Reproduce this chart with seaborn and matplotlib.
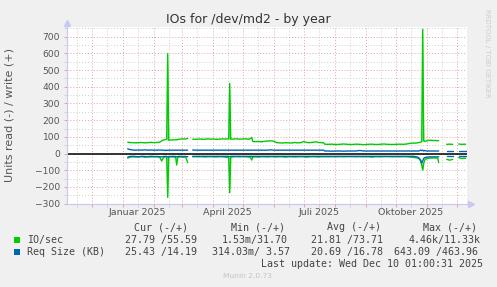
import numpy as np
import pandas as pd
import matplotlib
matplotlib.use("Agg")
import matplotlib.pyplot as plt
import matplotlib.dates as mdates
from matplotlib.ticker import MultipleLocator, FuncFormatter, NullFormatter
from matplotlib.patches import Rectangle
import seaborn as sns

nan = float("nan")

# ---------------- data ----------------
base_date = "2024-12-01"
# day offsets from base_date
day = [36, 38, 41, 44, 47, 50, 53, 56, 59, 62,
       65, 68, 70, 72, 74, 75, 76, 77, 79, 82,
       84, 85, 86, 88, 91, 94, 96, 97, 101, 104,
       107, 110, 113, 116, 119, 122, 125, 128, 131, 134,
       137, 138, 139, 142, 145, 148, 151, 154, 157, 159,
       160, 161, 164, 167, 170, 173, 176, 179, 182, 185,
       188, 191, 194, 197, 200, 203, 206, 209, 212, 215,
       218, 221, 224, 227, 230, 232, 233, 236, 240, 244,
       248, 252, 256, 260, 264, 268, 272, 276, 280, 284,
       288, 292, 296, 300, 304, 308, 312, 316, 319, 322,
       325, 327, 329, 330, 331, 332, 333, 335, 338, 341,
       344, 346, 347, 348, 355, 358, 361, 362, 367, 370, 374]

io_write = [68, 66, 65, 64, 65, 66, 64, 65, 67, 65,
            66, 68, 76, 82, 84, 86, 600, 80, 81, 82,
            83, 82, 84, 86, 88, 87, 91, nan, 86, 85,
            87, 86, 85, 88, 86, 87, 85, 86, 88, 87,
            88, 420, 86, 87, 88, 86, 87, 88, 86, 90,
            97, 72, 71, 72, 70, 73, 75, 76, 74, 65,
            64, 63, 65, 64, 63, 66, 64, 65, 72, 66,
            65, 67, 70, 66, 65, 64, 56, 55, 56, 54,
            55, 57, 55, 54, 56, 55, 53, 55, 56, 54,
            55, 57, 55, 54, 55, 56, 55, 58, 62, 62,
            63, 66, 68, 72, 745, 80, 72, 76, 80, 78,
            78, 77, 76, nan, 55, 56, 55, nan, 57, 55, 56]

io_read = [28, 22, 20, 21, 20, 19, 22, 20, 21, 19,
           20, 22, 45, 22, 20, 21, 263, 22, 20, 21,
           25, 69, 24, 20, 22, 21, 55, nan, 20, 19,
           20, 19, 21, 20, 19, 20, 21, 19, 20, 22,
           24, 235, 22, 20, 19, 20, 19, 20, 21, 25,
           39, 22, 20, 22, 19, 20, 21, 19, 20, 21,
           19, 20, 22, 19, 20, 21, 20, 19, 20, 22,
           20, 19, 20, 21, 19, 20, 19, 20, 19, 20,
           19, 20, 19, 19, 20, 19, 20, 19, 22, 19,
           20, 19, 19, 20, 19, 20, 19, 20, 22, 24,
           26, 30, 45, 70, 99, 60, 40, 30, 28, 27,
           27, 28, 55, nan, 35, 40, 35, nan, 25, 30, 28]

req_write = [28, 24, 21, 20, 21, 20, 22, 20, 21, 20,
             20, 21, 20, 20, 18, 20, 19, 20, 20, 20,
             20, 20, 20, 20, 20, 20, 20, nan, 21, 20,
             20, 20, 20, 20, 20, 20, 20, 20, 20, 20,
             20, 20, 20, 20, 20, 20, 20, 20, 20, 20,
             20, 20, 20, 20, 20, 20, 20, 22, 20, 20,
             20, 20, 20, 20, 20, 20, 20, 20, 20, 20,
             20, 20, 20, 20, 20, 20, 15, 15, 14, 15,
             15, 14, 15, 15, 15, 18, 15, 15, 15, 15,
             15, 15, 15, 15, 15, 15, 15, 15, 15, 15,
             15, 15, 20, 17, 20, 15, 18, 15, 15, 15,
             15, 15, 15, nan, 15, 15, 15, nan, 13, 13, 13]

req_read = [22, 18, 17, 18, 20, 17, 18, 19, 17, 18,
            18, 19, 20, 18, 17, 18, 20, 18, 18, 17,
            18, 20, 18, 17, 18, 18, 19, nan, 17, 17,
            17, 17, 17, 17, 17, 17, 17, 17, 17, 17,
            17, 19, 17, 17, 17, 17, 17, 17, 17, 17,
            17, 17, 17, 17, 17, 17, 17, 17, 17, 17,
            17, 17, 17, 17, 17, 17, 17, 17, 17, 17,
            17, 17, 17, 17, 17, 17, 17, 17, 17, 17,
            17, 17, 17, 17, 17, 17, 17, 17, 17, 17,
            17, 17, 17, 17, 17, 17, 17, 17, 17, 17,
            20, 25, 40, 59, 45, 30, 25, 22, 20, 20,
            20, 20, 20, nan, 17, 17, 17, nan, 17, 17, 17]

spike_days = [76, 138, 331]

title = "IOs for /dev/md2 - by year"
y_label = "Units read (-) / write (+)"
quarter_names = {1: "Januar", 4: "April", 7: "Juli", 10: "Oktober"}
series_names = ["IO/sec", "Req Size (KB)"]
col_headers = ["Cur (-/+)", "Min (-/+)", "Avg (-/+)", "Max (-/+)"]
io_stats = ["27.79 /55.59", "1.53m/31.70", "21.81 /73.71", "4.46k/11.33k"]
req_stats = ["25.43 /14.19", "314.03m/ 3.57", "20.69 /16.78", "643.09 /463.96"]
last_update = "Last update: Wed Dec 10 01:00:31 2025"
version = "Munin 2.0.73"
watermark = "RRDTOOL / TOBI OETIKER"

# ---------------- style ----------------
GREEN = "#00CC00"
BLUE = "#0066B3"
LIGHT_GREEN = "#7FE57F"
BG = "#F0F0F0"
TXT = "#555555"
MGRID = "#E8A0A0"
GRID = "#CFCFCF"
AXIS = "#C8C8F4"

sns.set_style("white")
plt.rcParams["font.family"] = ["DejaVu Sans"]

W, H = 497, 287
fig = plt.figure(figsize=(W / 100, H / 100), dpi=100, facecolor=BG)
ax_l, ax_r, ax_t, ax_b = 66.7, 467.3, 27.0, 203.5
ax = fig.add_axes([ax_l / W, (H - ax_b) / H, (ax_r - ax_l) / W, (ax_b - ax_t) / H])
ax.set_facecolor("white")

base = pd.Timestamp(base_date)
df = pd.DataFrame({
    "date": base + pd.to_timedelta(day, unit="D"),
    "io_w": np.array(io_write, float),
    "io_r": -np.array(io_read, float),
    "rq_w": np.array(req_write, float),
    "rq_r": -np.array(req_read, float),
})
df["seg"] = df["io_w"].isna().cumsum()
dd = df.dropna().reset_index(drop=True)

# light wedges around spikes
for d in spike_days:
    i = day.index(d)
    sub = df.iloc[i - 1:i + 2]
    ax.fill_between(sub["date"], sub["io_w"].min(), sub["io_w"], color=LIGHT_GREEN,
                    lw=0, zorder=2)
    ax.fill_between(sub["date"], sub["io_r"].max(), sub["io_r"], color=LIGHT_GREEN,
                    lw=0, zorder=2)

ax.axhline(0, color="black", lw=1.1, zorder=2.5)

for col, colr in [("io_w", GREEN), ("io_r", GREEN), ("rq_w", BLUE), ("rq_r", BLUE)]:
    sns.lineplot(data=dd, x="date", y=col, units="seg", estimator=None, color=colr,
                 lw=1.0, ax=ax, legend=False, zorder=3)

ax.set_xlim(base + pd.Timedelta(days=-25), base + pd.Timedelta(days=375.6))
ax.set_ylim(-300, 759)
ax.set_xlabel("")
ax.set_ylabel("")

ax.yaxis.set_major_locator(MultipleLocator(100))
ax.yaxis.set_minor_locator(MultipleLocator(50))
ax.xaxis.set_major_locator(mdates.MonthLocator(bymonthday=1))
ax.xaxis.set_minor_locator(mdates.MonthLocator(bymonthday=16))
ax.xaxis.set_major_formatter(NullFormatter())


def qfmt(x, pos):
    dt = mdates.num2date(x)
    if dt.month in quarter_names:
        return f"{quarter_names[dt.month]} {dt.year}"
    return ""


ax.xaxis.set_minor_formatter(FuncFormatter(qfmt))

dot = (0, (1, 2))
ax.grid(which="major", color=MGRID, ls=dot, lw=0.7, zorder=1)
ax.grid(which="minor", color=GRID, ls=dot, lw=0.7, zorder=0.9)
ax.set_axisbelow(True)

ax.tick_params(axis="y", which="major", length=2, width=0.7, color=MGRID, pad=2.8,
               labelsize=6.6, labelcolor=TXT, left=True)
ax.tick_params(axis="y", which="minor", length=2, width=0.7, color=GRID, left=True)
ax.tick_params(axis="x", which="major", length=2, width=0.7, color=MGRID, bottom=True)
ax.tick_params(axis="x", which="minor", length=2, width=0.7, color=GRID, pad=1.2,
               labelsize=6.8, labelcolor=TXT, bottom=True)

for s in ["top", "right"]:
    ax.spines[s].set_visible(False)
for s in ["left", "bottom"]:
    ax.spines[s].set_color(AXIS)
    ax.spines[s].set_linewidth(0.8)

ax.plot([0], [1.0 + 4 / (ax_b - ax_t)], marker="^", ms=4, color=AXIS,
        transform=ax.transAxes, clip_on=False)
ax.plot([1.0 + 4 / (ax_r - ax_l)], [0], marker=">", ms=4, color=AXIS,
        transform=ax.transAxes, clip_on=False)

# ---------------- texts ----------------
def fy(py):
    return 1 - py / H


fig.text(248.5 / W, fy(20), title, ha="center", va="center", fontsize=9, color="#333333")
fig.text(10 / W, fy((ax_t + ax_b) / 2), y_label, rotation=90, ha="center", va="center",
         fontsize=8, color=TXT)
fig.text(487.5 / W, fy(53), watermark, rotation=270, ha="center", va="center",
         fontsize=5, color="#CCCCCC")

mono = dict(family="DejaVu Sans Mono", fontsize=7.2, color="#444444", va="center")
for x, s in zip([134, 231, 327, 423], col_headers):
    fig.text(x / W, fy(227.5), s, ha="left", **mono)

fig.patches.append(Rectangle((14 / W, fy(242.5)), 6 / W, 6 / H, transform=fig.transFigure,
                             facecolor=GREEN, edgecolor="none"))
fig.patches.append(Rectangle((14 / W, fy(254.8)), 6 / W, 6 / H, transform=fig.transFigure,
                             facecolor=BLUE, edgecolor="none"))
fig.text(26.7 / W, fy(239.5), series_names[0], ha="left", **mono)
fig.text(26.7 / W, fy(251.8), series_names[1], ha="left", **mono)

for x, s in zip([125, 221.7, 311, 408.3], io_stats):
    fig.text(x / W, fy(239.5), s, ha="left", **mono)
for x, s, ha in zip([125, 212, 311, 477.5], req_stats, ["left", "left", "left", "right"]):
    fig.text(x / W, fy(251.8), s, ha=ha, **mono)

fig.text(483 / W, fy(263.8), last_update, ha="right", **mono)
fig.text(247.7 / W, fy(276), version, ha="center", va="center", fontsize=5.4, color="#C4C4C4")

fig.savefig("out.png", dpi=100, facecolor=BG)
